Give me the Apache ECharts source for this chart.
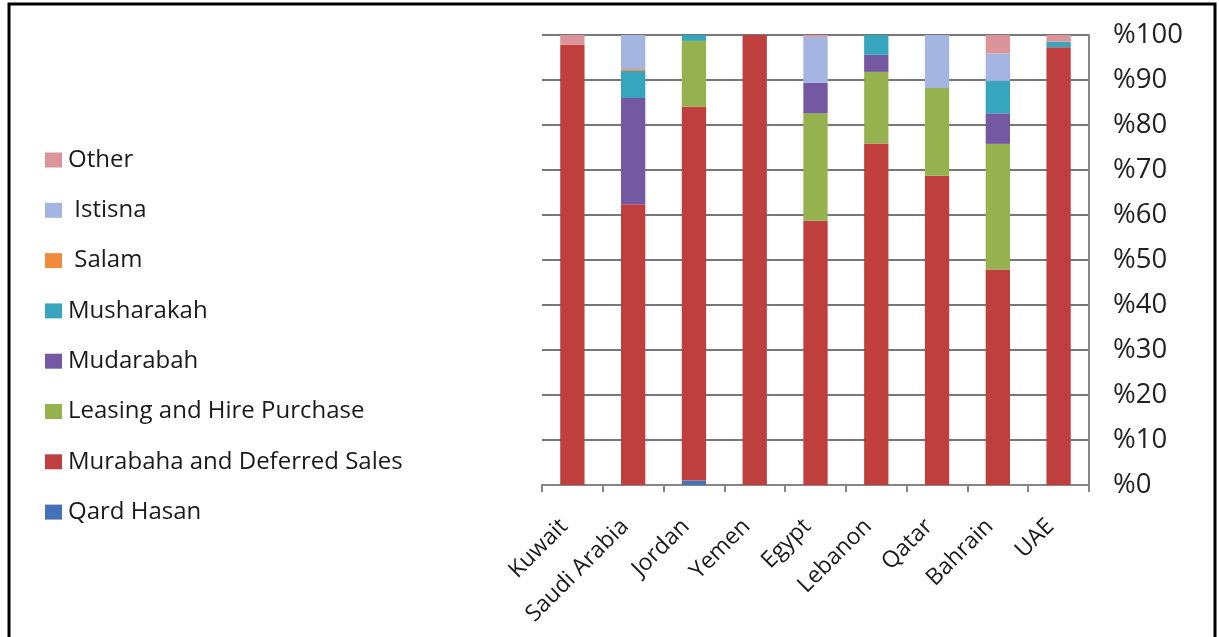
<!DOCTYPE html>
<html>
<head>
<meta charset="utf-8">
<script src="https://cdn.jsdelivr.net/npm/echarts@6/dist/echarts.min.js"></script>
<style>
  html, body { margin: 0; padding: 0; background: #fff; }
  #chart { width: 1219px; height: 637px; }
</style>
</head>
<body>
<div id="chart"></div>
<script>
// Financing mode shares (%) by country
const countries = ['Kuwait', 'Saudi Arabia', 'Jordan', 'Yemen', 'Egypt', 'Lebanon', 'Qatar', 'Bahrain', 'UAE'];

const qardHasan  = [0,    0,    1.0,  0,   0,    0,    0,    0,    0];
const murabaha   = [97.8, 62.4, 83.1, 100, 58.7, 75.9, 68.7, 47.9, 97.3];
const leasing    = [0,    0,    14.6, 0,   23.9, 15.9, 19.5, 27.9, 0];
const mudarabah  = [0,    23.6, 0,    0,   6.8,  3.8,  0,    6.8,  0];
const musharakah = [0,    6.0,  1.3,  0,   0,    4.4,  0,    7.2,  1.2];
const salam      = [0,    0.4,  0,    0,   0,    0,    0,    0,    0];
const istisna    = [0,    7.6,  0,    0,   10.2, 0,    11.8, 6.1,  0];
const other      = [2.2,  0,    0,    0,   0.4,  0,    0,    4.1,  1.5];

const yTicks = [0, 10, 20, 30, 40, 50, 60, 70, 80, 90, 100];

const seriesDefs = [
  { name: 'Qard Hasan',                  data: qardHasan,  color: '#4472B8' },
  { name: 'Murabaha and Deferred Sales', data: murabaha,   color: '#BF3F3F' },
  { name: 'Leasing and Hire Purchase',   data: leasing,    color: '#95B24E' },
  { name: 'Mudarabah',                   data: mudarabah,  color: '#7458A2' },
  { name: 'Musharakah',                  data: musharakah, color: '#35A6BE' },
  { name: ' Salam',                      data: salam,      color: '#F08A3C' },
  { name: ' Istisna',                    data: istisna,    color: '#A3B5E0' },
  { name: 'Other',                       data: other,      color: '#DB949A' }
];

const chart = echarts.init(document.getElementById('chart'), null, { renderer: 'canvas' });

chart.setOption({
  backgroundColor: '#ffffff',
  animation: false,
  textStyle: { fontFamily: 'Open Sans' },
  graphic: [
    {
      type: 'rect',
      shape: { x: 9, y: 4, width: 1206, height: 700 },
      style: { fill: 'none', stroke: '#000', lineWidth: 3 },
      silent: true
    }
  ],
  legend: {
    orient: 'vertical',
    left: 40,
    top: 142,
    itemWidth: 17,
    itemHeight: 15,
    itemGap: 24.3,
    icon: 'rect',
    data: seriesDefs.map(s => s.name).reverse(),
    textStyle: {
      fontFamily: 'Open Sans',
      fontSize: 24,
      lineHeight: 26,
      color: '#1a1a1a',
      padding: [0, 0, 0, 1]
    }
  },
  grid: {
    left: 542,
    right: 130,
    top: 35,
    bottom: 152,
    containLabel: false
  },
  xAxis: {
    type: 'category',
    data: countries,
    boundaryGap: true,
    axisLine: { show: true, lineStyle: { color: '#868686', width: 2 } },
    axisTick: { show: true, length: 7, interval: 0, lineStyle: { color: '#868686', width: 2 } },
    axisLabel: {
      interval: 0,
      rotate: 45,
      margin: 46,
      verticalAlign: 'bottom',
      fontFamily: 'Open Sans',
      fontSize: 23,
      color: '#1a1a1a'
    }
  },
  yAxis: {
    type: 'value',
    position: 'right',
    min: yTicks[0],
    max: yTicks[yTicks.length - 1],
    interval: yTicks[1] - yTicks[0],
    axisLine: { show: true, lineStyle: { color: '#868686', width: 2 } },
    axisTick: { show: false },
    splitLine: { show: true, lineStyle: { color: '#777', width: 2 } },
    axisLabel: {
      formatter: v => '%' + v,
      margin: 24,
      fontFamily: 'Open Sans',
      fontSize: 27.5,
      color: '#222'
    }
  },
  series: seriesDefs.map(s => ({
    name: s.name,
    type: 'bar',
    stack: 'total',
    barWidth: '40%',
    data: s.data,
    itemStyle: { color: s.color },
    emphasis: { disabled: true }
  }))
});
</script>
</body>
</html>
